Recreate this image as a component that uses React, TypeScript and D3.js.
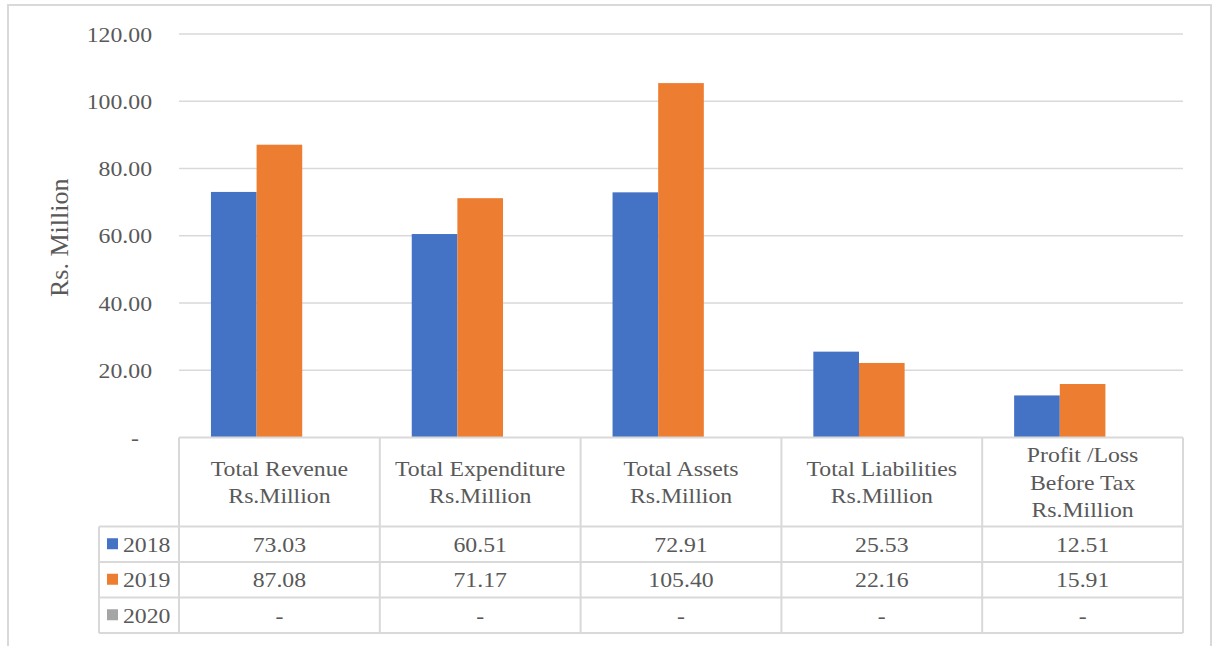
import React from 'react';
import * as d3 from 'd3';

const categories = [
  ['Total Revenue', 'Rs.Million'],
  ['Total Expenditure', 'Rs.Million'],
  ['Total Assets', 'Rs.Million'],
  ['Total Liabilities', 'Rs.Million'],
  ['Profit /Loss', 'Before Tax', 'Rs.Million'],
];
const seriesNames = ['2018', '2019', '2020'];
const values2018 = [73.03, 60.51, 72.91, 25.53, 12.51];
const values2019 = [87.08, 71.17, 105.4, 22.16, 15.91];
const values2020: (number | null)[] = [null, null, null, null, null];
const seriesColors = ['#4472C4', '#ED7D31', '#A5A5A5'];
const yTicks = [0, 20, 40, 60, 80, 100, 120];

const W = 1214;
const H = 646;
const TEXT = '#595959';
const GRID = '#d9d9d9';
const FONT = '"Liberation Serif", "Times New Roman", serif';
// the source picture is slightly stretched sideways
const SX = 1.08;

// text drawn at (x, y) with the sideways stretch
const Label: React.FC<{
  x: number;
  y: number;
  anchor?: 'start' | 'middle' | 'end';
  size?: number;
  children: React.ReactNode;
}> = ({ x, y, anchor = 'middle', size = 22, children }) => (
  <text
    transform={`translate(${x},${y}) scale(${SX},1)`}
    dy="0.35em"
    textAnchor={anchor}
    fontSize={size}
    fill={TEXT}
  >
    {children}
  </text>
);

const App: React.FC = () => {
  const series = [values2018, values2019, values2020];
  const plot = { left: 179, right: 1183, top: 34, bottom: 437.5 };

  const y = d3.scaleLinear().domain([0, 120]).range([plot.bottom, plot.top]);
  const x = d3
    .scaleBand<number>()
    .domain(d3.range(categories.length))
    .range([plot.left, plot.right]);
  const inner = d3
    .scaleBand<number>()
    .domain(d3.range(seriesNames.length))
    .range([0, x.bandwidth()])
    .paddingInner(0)
    .paddingOuter(0.7);

  const fmt = (v: number) => (v === 0 ? '-' : d3.format('.2f')(v));
  const cell = (v: number | null) => (v == null ? '-' : d3.format('.2f')(v));

  // table geometry
  const legendLeft = 99;
  const headerBottom = 526.5;
  const rowH = 35.5;
  const rowsBottom = headerBottom + rowH * seriesNames.length;

  return (
    <svg
      width={W}
      height={H}
      style={{ position: 'absolute', left: 0, top: 0, background: '#fff' }}
      fontFamily={FONT}
    >
      <rect x={0} y={0} width={W} height={H} fill="#fff" />
      <rect x={8} y={5} width={1203} height={H + 10} fill="none" stroke={GRID} strokeWidth={2} />

      {/* gridlines */}
      {yTicks.filter(t => t > 0).map(t => (
        <line key={t} x1={plot.left} x2={plot.right} y1={y(t)} y2={y(t)} stroke={GRID} strokeWidth={1.5} />
      ))}

      {/* y tick labels */}
      {yTicks.map(t => (
        <Label key={t} x={t === 0 ? 135 : 152} y={y(t)} anchor={t === 0 ? 'middle' : 'end'}>
          {fmt(t)}
        </Label>
      ))}

      {/* axis title */}
      <text
        transform={`translate(68,${(plot.top + plot.bottom) / 2 + 2}) rotate(-90)`}
        textAnchor="middle"
        fontSize={26}
        fill={TEXT}
      >
        Rs. Million
      </text>

      {/* bars */}
      {series.map((vals, si) =>
        vals.map((v, ci) =>
          v == null ? null : (
            <rect
              key={`${si}-${ci}`}
              x={(x(ci) ?? 0) + (inner(si) ?? 0)}
              y={y(v)}
              width={inner.bandwidth()}
              height={plot.bottom - y(v)}
              fill={seriesColors[si]}
            />
          )
        )
      )}

      {/* data table grid */}
      <g stroke={GRID} strokeWidth={2} fill="none">
        <line x1={plot.left} x2={plot.right} y1={plot.bottom} y2={plot.bottom} />
        {d3.range(seriesNames.length + 1).map(i => (
          <line
            key={`h${i}`}
            x1={legendLeft}
            x2={plot.right}
            y1={headerBottom + i * rowH}
            y2={headerBottom + i * rowH}
          />
        ))}
        <line x1={legendLeft} x2={legendLeft} y1={headerBottom} y2={rowsBottom} />
        {d3.range(categories.length + 1).map(i => {
          const xx = i < categories.length ? (x(i) ?? 0) : plot.right;
          return <line key={`v${i}`} x1={xx} x2={xx} y1={plot.bottom} y2={rowsBottom} />;
        })}
      </g>

      {/* header labels */}
      {categories.map((lines, ci) => {
        const cx = (x(ci) ?? 0) + x.bandwidth() / 2;
        const lh = 27.5;
        const mid = (plot.bottom + headerBottom) / 2;
        const first = mid - ((lines.length - 1) * lh) / 2;
        return (
          <g key={ci}>
            {lines.map((l, li) => (
              <Label key={li} x={cx} y={first + li * lh}>
                {l}
              </Label>
            ))}
          </g>
        );
      })}

      {/* rows */}
      {series.map((vals, si) => {
        const cy = headerBottom + si * rowH + rowH / 2;
        return (
          <g key={si}>
            <rect x={107} y={cy - 6} width={11} height={11} fill={seriesColors[si]} />
            <Label x={123} y={cy} anchor="start">
              {seriesNames[si]}
            </Label>
            {vals.map((v, ci) => (
              <Label key={ci} x={(x(ci) ?? 0) + x.bandwidth() / 2} y={cy}>
                {cell(v)}
              </Label>
            ))}
          </g>
        );
      })}
    </svg>
  );
};

export default App;
